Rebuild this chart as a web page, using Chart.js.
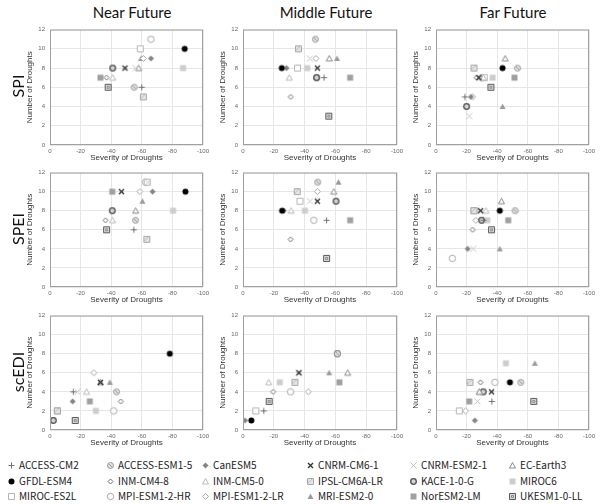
<!DOCTYPE html>
<html>
<head>
<meta charset="utf-8">
<script src="https://cdn.jsdelivr.net/npm/chart.js@4.4.0/dist/chart.umd.min.js"></script>
<style>
  body { margin: 0; background: #fff; }
  #wrap { position: relative; width: 604px; height: 504px; overflow: hidden; font-family: "Liberation Sans", Arial, sans-serif; }
  canvas.panel { position: absolute; }
  .colTitle { position: absolute; top: 3px; width: 200px; text-align: center; font-family: Lato, sans-serif; font-size: 15px; color: #111; }
  .rowTitle { position: absolute; left: 17px; font-family: Lato, sans-serif; font-size: 16px; color: #111; transform: translate(-50%, -50%) rotate(-90deg); white-space: nowrap; }
  .leg { position: absolute; font-family: "Noto Sans CJK KR", "Noto Sans", sans-serif; font-size: 10px; color: #222; white-space: nowrap; line-height: 12px; }
  .leg canvas { position: absolute; left: -12px; top: 2px; }
</style>
</head>
<body>
<div id="wrap"></div>
<script>
const models = ['ACCESS-CM2', 'ACCESS-ESM1-5', 'CanESM5', 'CNRM-CM6-1', 'CNRM-ESM2-1', 'EC-Earth3',
  'GFDL-ESM4', 'INM-CM4-8', 'INM-CM5-0', 'IPSL-CM6A-LR', 'KACE-1-0-G', 'MIROC6',
  'MIROC-ES2L', 'MPI-ESM1-2-HR', 'MPI-ESM1-2-LR', 'MRI-ESM2-0', 'NorESM2-LM', 'UKESM1-0-LL'];

const periods = ['Near Future', 'Middle Future', 'Far Future'];
const indices = ['SPI', 'SPEI', 'scEDI'];
const xTicks = [0, -20, -40, -60, -80, -100];
const yTicks = [0, 2, 4, 6, 8, 10, 12];

// severity / number of droughts, one value per model (same order as models)
const spiNearSev = [-60, -55, -66, -49, -56, -58, -88, -37, -41, -61, -41, -87, -59, -66, -61, -59.5, -33, -38];
const spiNearNum = [6, 6, 9, 8, 8, 8, 10, 7, 7, 5, 8, 8, 10, 11, 9, 9, 7, 6];
const spiMidSev = [-52.6, -47, -28.3, -48.3, -43.5, -56, -25.2, -31, -30, -36, -47.8, -41.7, -35.4, -47.8, -47.4, -61, -69.6, -55.7];
const spiMidNum = [7, 11, 8, 8, 9, 9, 8, 5, 7, 10, 7, 8, 8, 7, 9, 9, 7, 3];
const spiFarSev = [-18.9, -53.3, -22.8, -28, -21.7, -45.2, -43.5, -26.5, -31, -24.8, -20, -37, -31.5, -30, -24, -43.5, -51.3, -35.9];
const spiFarNum = [5, 8, 5, 7, 3, 9, 8, 7, 7, 8, 4, 7, 7, 7, 5, 4, 7, 6];

const speiNearSev = [-54.8, -55.9, -67, -46.7, -64, -56, -88.5, -36.3, -40.9, -63.3, -40.7, -80.4, -63.5, -62.5, -58.7, -60.4, -40.7, -37];
const speiNearNum = [6, 7, 10, 10, 11, 8, 10, 7, 7, 5, 8, 8, 11, 11, 10, 9, 10, 6];
const speiMidSev = [-54.3, -48.5, -26.5, -48.3, -43.5, -59, -25.4, -30.9, -31.2, -35.2, -60.4, -40.2, -37, -46, -48.3, -62, -69.6, -54.3];
const speiMidNum = [7, 11, 8, 9, 9, 10, 8, 5, 8, 10, 9, 8, 9, 7, 10, 11, 7, 3];
const speiFarSev = [-31, -51.7, -20.7, -29.1, -24.3, -42.8, -41.7, -23.9, -32.6, -24.8, -29.8, -33.5, -24.8, -10.7, -26, -41.7, -47.2, -36.3];
const speiFarNum = [7, 8, 4, 8, 4, 9, 8, 6, 8, 8, 7, 7, 8, 3, 7, 4, 7, 6];

const scediNearSev = [-15.2, -43.5, -14.8, -33, -18, -33, -78.3, -46.3, -23.9, -4.8, -2.2, -30, -4.8, -41.7, -28.7, -39.1, -26, -16.5];
const scediNearNum = [4, 4, 3, 5, 4, 5, 8, 3, 4, 2, 1, 2, 2, 2, 6, 5, 3, 1];
const scediMidSev = [-13.5, -61.3, -1.3, -36.3, -36.3, -68, -5.4, -19.6, -16.7, -33.7, -61.3, -23.9, -8.3, -30.9, -42.4, -55.9, -62.6, -17];
const scediMidNum = [2, 8, 1, 6, 6, 6, 1, 4, 5, 5, 8, 5, 2, 4, 4, 6, 5, 3];
const scediFarSev = [-36.5, -55.4, -25.4, -36.3, -27, -28.3, -48.3, -29.1, -28.3, -22.2, -30.9, -45.7, -15.2, -38.5, -19.3, -64.6, -21.7, -63.9];
const scediFarNum = [3, 5, 1, 4, 3, 4, 5, 5, 4, 5, 4, 7, 2, 5, 2, 7, 3, 3];

const panelSev = [[spiNearSev, spiMidSev, spiFarSev], [speiNearSev, speiMidSev, speiFarSev], [scediNearSev, scediMidSev, scediFarSev]];
const panelNum = [[spiNearNum, spiMidNum, spiFarNum], [speiNearNum, speiMidNum, speiFarNum], [scediNearNum, scediMidNum, scediFarNum]];

// marker look per model
const markerKinds = ['plus', 'circleSlash', 'canDiamond', 'boldX', 'lightX', 'triOutline',
  'black', 'diamondDark', 'triLight', 'hatchSquare', 'ringDark', 'squareLight',
  'squareOpen', 'circleOpen', 'diamondLight', 'triFilled', 'squareGray', 'squareDouble'];

function makeMarker(kind) {
  const c = document.createElement('canvas');
  c.width = 9; c.height = 9;
  const g = c.getContext('2d');
  const m = 4.5;
  g.lineWidth = 1;
  g.beginPath();
  switch (kind) {
    case 'plus':
      g.strokeStyle = '#707070';
      g.moveTo(m, 1.5); g.lineTo(m, 7.5); g.moveTo(1.5, m); g.lineTo(7.5, m); g.stroke();
      break;
    case 'circleSlash':
      g.fillStyle = '#e0e0e0'; g.strokeStyle = '#9a9a9a';
      g.arc(m, m, 3, 0, Math.PI * 2); g.fill(); g.stroke();
      g.beginPath(); g.moveTo(3, 3); g.lineTo(6, 6); g.stroke();
      break;
    case 'canDiamond':
      g.fillStyle = '#858585';
      g.moveTo(m, 1.5); g.lineTo(7.5, m); g.lineTo(m, 7.5); g.lineTo(1.5, m); g.closePath(); g.fill();
      break;
    case 'boldX':
      g.strokeStyle = '#333'; g.lineWidth = 1.4;
      g.moveTo(2, 2); g.lineTo(7, 7); g.moveTo(7, 2); g.lineTo(2, 7); g.stroke();
      break;
    case 'lightX':
      g.strokeStyle = '#c4c4c4';
      g.moveTo(1.5, 1.5); g.lineTo(7.5, 7.5); g.moveTo(7.5, 1.5); g.lineTo(1.5, 7.5); g.stroke();
      break;
    case 'triOutline':
      g.strokeStyle = '#8a8a8a'; g.fillStyle = '#fff';
      g.moveTo(m, 1.5); g.lineTo(7.5, 7); g.lineTo(1.5, 7); g.closePath(); g.fill(); g.stroke();
      break;
    case 'black':
      g.fillStyle = '#000';
      g.arc(m, m, 3, 0, Math.PI * 2); g.fill();
      break;
    case 'diamondDark':
      g.strokeStyle = '#707070'; g.fillStyle = '#fff';
      g.moveTo(m, 2); g.lineTo(7, m); g.lineTo(m, 7); g.lineTo(2, m); g.closePath(); g.fill(); g.stroke();
      break;
    case 'triLight':
      g.strokeStyle = '#b8b8b8'; g.fillStyle = '#fff';
      g.moveTo(m, 1.5); g.lineTo(7.5, 7); g.lineTo(1.5, 7); g.closePath(); g.fill(); g.stroke();
      break;
    case 'hatchSquare':
      g.fillStyle = '#e4e4e4'; g.strokeStyle = '#a8a8a8';
      g.rect(1.5, 1.5, 6, 6); g.fill(); g.stroke();
      g.beginPath(); g.strokeStyle = '#bdbdbd';
      g.moveTo(2, 6); g.lineTo(6, 2); g.stroke();
      break;
    case 'ringDark':
      g.fillStyle = '#d4d4d4'; g.strokeStyle = '#505050'; g.lineWidth = 1.3;
      g.arc(m, m, 2.8, 0, Math.PI * 2); g.fill(); g.stroke();
      break;
    case 'squareLight':
      g.fillStyle = '#cdcdcd';
      g.rect(1.5, 1.5, 6, 6); g.fill();
      break;
    case 'squareOpen':
      g.strokeStyle = '#b5b5b5'; g.fillStyle = '#fff';
      g.rect(1.5, 1.5, 6, 6); g.fill(); g.stroke();
      break;
    case 'circleOpen':
      g.strokeStyle = '#a8a8a8'; g.fillStyle = '#fff';
      g.arc(m, m, 3.2, 0, Math.PI * 2); g.fill(); g.stroke();
      break;
    case 'diamondLight':
      g.strokeStyle = '#a5a5a5'; g.fillStyle = '#fff';
      g.moveTo(m, 1.5); g.lineTo(7.5, m); g.lineTo(m, 7.5); g.lineTo(1.5, m); g.closePath(); g.fill(); g.stroke();
      break;
    case 'triFilled':
      g.fillStyle = '#9a9a9a';
      g.moveTo(m, 1.5); g.lineTo(7.5, 7); g.lineTo(1.5, 7); g.closePath(); g.fill();
      break;
    case 'squareGray':
      g.fillStyle = '#a0a0a0';
      g.rect(1.5, 1.5, 6, 6); g.fill();
      break;
    case 'squareDouble':
      g.fillStyle = '#dadada'; g.strokeStyle = '#5a5a5a';
      g.rect(1.5, 1.5, 6, 6); g.fill(); g.stroke();
      g.beginPath(); g.strokeStyle = '#8a8a8a';
      g.rect(3.5, 3.5, 2, 2); g.stroke();
      break;
  }
  return c;
}

const markers = markerKinds.map(makeMarker);

const framePlugin = {
  id: 'frame',
  afterDraw(chart) {
    const a = chart.chartArea, ctx = chart.ctx;
    ctx.save();
    ctx.strokeStyle = '#a0a0a0';
    ctx.lineWidth = 1;
    ctx.strokeRect(a.left + 0.5, a.top + 0.5, a.right - a.left - 1, a.bottom - a.top - 1);
    ctx.restore();
  }
};

const colLR = [[50, 203], [243, 397], [436, 589]];
const rowTB = [[27, 145], [170, 287], [313, 430]];
const wrap = document.getElementById('wrap');

rowTB.forEach((tb, r) => {
  colLR.forEach((lr, c) => {
    const padL = 27, padR = 10, padT = 6, padB = 20;
    const canvas = document.createElement('canvas');
    canvas.className = 'panel';
    canvas.width = lr[1] - lr[0] + padL + padR;
    canvas.height = tb[1] - tb[0] + padT + padB;
    canvas.style.left = (lr[0] - padL) + 'px';
    canvas.style.top = (tb[0] - padT) + 'px';
    wrap.appendChild(canvas);

    const sev = panelSev[r][c], num = panelNum[r][c];
    const datasets = models.map((name, i) => ({
      label: name,
      data: [{ x: sev[i], y: num[i] }],
      pointStyle: markers[i],
      pointRadius: 4,
      order: name === 'GFDL-ESM4' ? 0 : 1
    }));

    new Chart(canvas, {
      type: 'scatter',
      data: { datasets },
      options: {
        responsive: false,
        animation: false,
        devicePixelRatio: 1,
        layout: { padding: { top: padT, right: padR, left: 0, bottom: 0 } },
        plugins: { legend: { display: false }, tooltip: { enabled: false } },
        scales: {
          x: {
            type: 'linear', min: -100, max: 0, reverse: true,
            afterBuildTicks: s => { s.ticks = xTicks.map(v => ({ value: v })); },
            afterFit: s => { s.height = padB; },
            grid: { color: '#e6e6e6', drawTicks: false },
            border: { display: false },
            ticks: { padding: 3, color: '#666', font: { size: 6, family: 'Liberation Sans' } },
            title: { display: true, text: 'Severity of Droughts', color: '#333', padding: { top: 0, bottom: 2 },
              font: { size: 8, family: 'Liberation Sans' } }
          },
          y: {
            type: 'linear', min: 0, max: 12,
            afterBuildTicks: s => { s.ticks = yTicks.map(v => ({ value: v })); },
            afterFit: s => { s.width = padL; },
            grid: { color: '#e6e6e6', drawTicks: false },
            border: { display: false },
            ticks: { padding: 5, color: '#666', font: { size: 6, family: 'Liberation Sans' } },
            title: { display: true, text: 'Number of Droughts', color: '#333', padding: { top: 2, bottom: 0 },
              font: { size: 8, family: 'Liberation Sans' } }
          }
        }
      },
      plugins: [framePlugin]
    });
  });
});

periods.forEach((p, c) => {
  const d = document.createElement('div');
  d.className = 'colTitle';
  d.textContent = p;
  d.style.left = ([132, 326, 513][c] - 100) + 'px';
  wrap.appendChild(d);
});

indices.forEach((t, r) => {
  const d = document.createElement('div');
  d.className = 'rowTitle';
  d.textContent = t;
  d.style.top = ((rowTB[r][0] + rowTB[r][1]) / 2) + 'px';
  wrap.appendChild(d);
});

// legend, 6 columns x 3 rows
const legX = [19, 118, 213, 318, 421, 520];
const legY = [459, 475, 490];
models.forEach((name, i) => {
  const d = document.createElement('div');
  d.className = 'leg';
  d.style.left = legX[i % 6] + 'px';
  d.style.top = legY[Math.floor(i / 6)] + 'px';
  const ic = document.createElement('canvas');
  ic.width = 9; ic.height = 9;
  ic.getContext('2d').drawImage(markers[i], 0, 0);
  d.appendChild(ic);
  d.appendChild(document.createTextNode(name));
  wrap.appendChild(d);
});
</script>
</body>
</html>
